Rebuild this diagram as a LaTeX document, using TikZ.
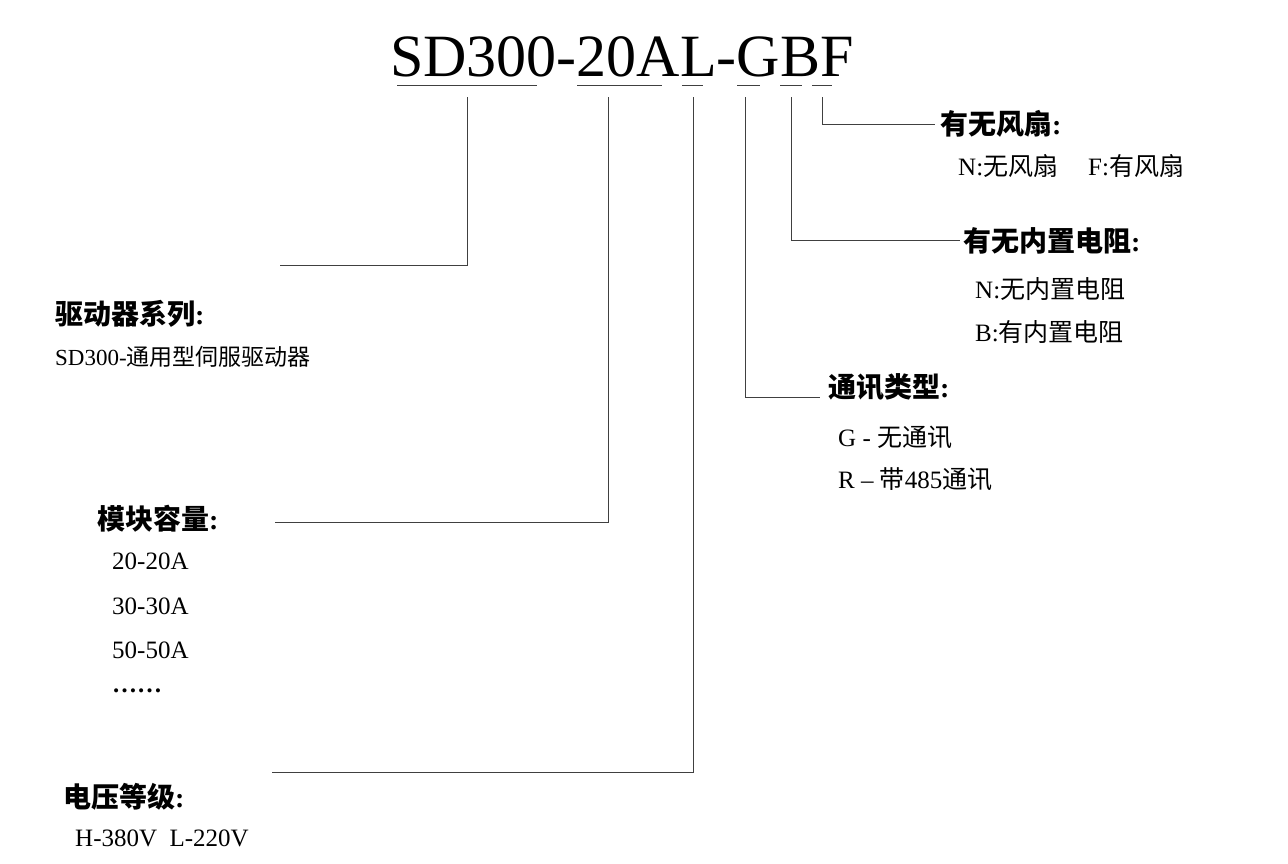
\documentclass[tikz,border=0pt]{standalone}
\usepackage{fontspec}
\setmainfont{Liberation Serif}
\newfontfamily\cjk{Noto Sans CJK SC}
\begin{document}
\begin{tikzpicture}[x=1pt,y=-1pt,
  ln/.style={draw=black!75,line width=0.9pt},
  hd/.style={anchor=west,inner sep=0pt,font=\fontsize{28}{30}\selectfont},
  tx/.style={anchor=west,inner sep=0pt,font=\fontsize{25}{28}\selectfont}]
\useasboundingbox (0,0) rectangle (1288,863);
\node[anchor=base west,inner sep=0pt,font=\fontsize{60}{64}\selectfont] (title) at (390,76) {SD300-20AL-GBF};
\foreach \a/\b in {397/537,577/662,682/703,737/760,780/802,812/832}
  \draw[ln] (\a,85) -- (\b,85);
\coordinate (s1) at (467,97); \coordinate (s2) at (608,97); \coordinate (s3) at (693,97);
\coordinate (s4) at (745,97); \coordinate (s5) at (791,97); \coordinate (s6) at (822,97);
% labels
\node[hd] (f) at (940,124) {{\cjk\bfseries 有无风扇}\textbf{:}};
\node[tx] (f1) at (958,166) {N:{\cjk 无风扇}\hspace{1.2em}F:{\cjk 有风扇}};
\node[hd] (b) at (963,241) {{\cjk\bfseries 有无内置电阻}\textbf{:}};
\node[tx] (b1) at (975,289) {N:{\cjk 无内置电阻}};
\node[tx] (b2) at (975,332) {B:{\cjk 有内置电阻}};
\node[hd] (g) at (828,387) {{\cjk\bfseries 通讯类型}\textbf{:}};
\node[tx] (g1) at (838,437) {G - {\cjk 无通讯}};
\node[tx] (g2) at (838,479) {R -- {\cjk 带}485{\cjk 通讯}};
\node[hd] (d) at (55,314) {{\cjk\bfseries 驱动器系列}\textbf{:}};
\node[tx,font=\fontsize{23}{26}\selectfont] (d1) at (55,357) {SD300-{\cjk 通用型伺服驱动器}};
\node[hd] (m) at (97,519) {{\cjk\bfseries 模块容量}\textbf{:}};
\node[tx] (m1) at (112,561) {20-20A};
\node[tx] (m2) at (112,606) {30-30A};
\node[tx] (m3) at (112,650) {50-50A};
\node[tx] (m4) at (112,691) {\textbf{……}};
\node[hd] (v) at (63,797) {{\cjk\bfseries 电压等级}\textbf{:}};
\node[tx] (v1) at (75,838) {H-380V\ \ L-220V};
% connectors
\draw[ln] (s1) |- (280,265);
\draw[ln] (s2) |- (275,522);
\draw[ln] (s3) |- (272,772);
\draw[ln] (s4) |- (820,397);
\draw[ln] (s5) |- (960,240);
\draw[ln] (s6) |- (935,124);
\end{tikzpicture}
\end{document}
